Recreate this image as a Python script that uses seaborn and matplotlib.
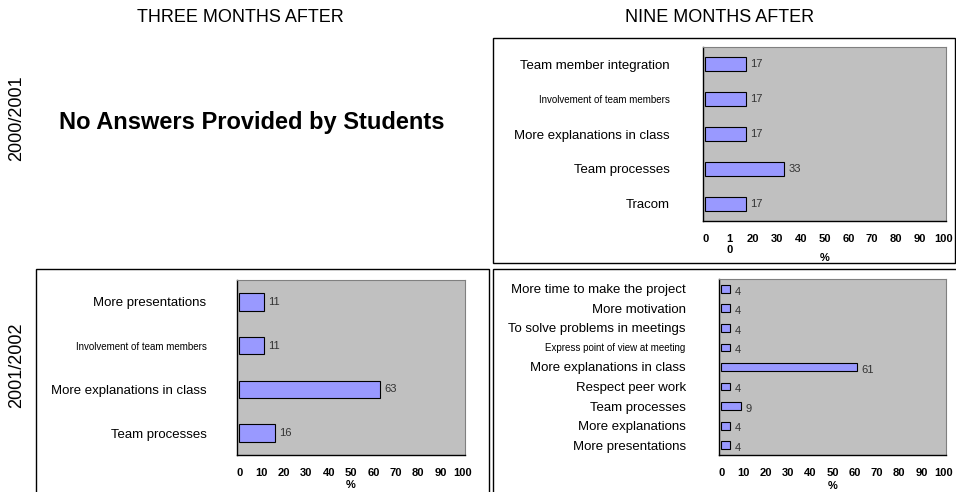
import matplotlib
matplotlib.use("Agg")
import matplotlib.pyplot as plt
from matplotlib.patches import Rectangle
import numpy as np
import pandas as pd
import seaborn as sns

# Data

col_titles = ["THREE MONTHS AFTER", "NINE MONTHS AFTER"]
row_titles = ["2000/2001", "2001/2002"]
no_answer_text = "No Answers Provided by Students"

nine_0001_items = ["Team member integration", "Involvement of team members",
                   "More explanations in class", "Team processes", "Tracom"]
nine_0001_pct = [17, 17, 17, 33, 17]

three_0102_items = ["More presentations", "Involvement of team members",
                    "More explanations in class", "Team processes"]
three_0102_pct = [11, 11, 63, 16]

nine_0102_items = ["More time to make the project", "More motivation",
                   "To solve problems in meetings", "Express point of view at meeting",
                   "More explanations in class", "Respect peer work",
                   "Team processes", "More explanations", "More presentations"]
nine_0102_pct = [4, 4, 4, 4, 61, 4, 9, 4, 4]

x_ticks = [0, 10, 20, 30, 40, 50, 60, 70, 80, 90, 100]
x_ticklabels_top = ["0", "1\n0", "20", "30", "40", "50", "60", "70", "80", "90", "100"]
x_ticklabels = ["0", "10", "20", "30", "40", "50", "60", "70", "80", "90", "100"]

# Style

BAR_COLOR = "#9999FF"
PLOT_BG = "#C0C0C0"
SMALL_LABELS = {"Involvement of team members", "Express point of view at meeting"}

sns.set_style("white")
plt.rcParams["font.family"] = ["Liberation Sans", "DejaVu Sans"]
plt.rcParams["text.color"] = "black"
plt.rcParams["axes.labelcolor"] = "black"
plt.rcParams["xtick.color"] = "black"
plt.rcParams["ytick.color"] = "black"


def draw_panel(ax, items, values, tick_labels, label_pad, xlabel_y, value_dy=0):
    df = pd.DataFrame({"item": items, "pct": values})
    sns.barplot(data=df, x="pct", y="item", ax=ax, orient="h",
                color=BAR_COLOR, saturation=1, width=0.4,
                edgecolor="black", linewidth=0.8)
    ax.set_facecolor(PLOT_BG)
    ax.set_xlim(-1, 101)
    ax.set_xticks(x_ticks)
    ax.set_xticklabels(tick_labels, fontsize=8, fontweight="bold")
    ax.set_xlabel("%", fontsize=8, fontweight="bold")
    ax.xaxis.set_label_coords(0.5, xlabel_y)
    ax.set_ylabel("")

    n = len(items)
    ax.set_yticks(np.arange(-0.5, n, 1), minor=True)
    ax.tick_params(axis="y", which="major", length=0, pad=label_pad)
    ax.tick_params(axis="y", which="minor", length=4, direction="out", width=0.8)
    ax.tick_params(axis="x", length=3, direction="out", width=0.8, pad=6)
    for lab in ax.get_yticklabels():
        lab.set_fontsize(7 if lab.get_text() in SMALL_LABELS else 9.5)

    for side in ["top", "right"]:
        ax.spines[side].set_color("#808080")
        ax.spines[side].set_linewidth(0.8)
    for side in ["left", "bottom"]:
        ax.spines[side].set_color("black")
        ax.spines[side].set_linewidth(1)

    anns = ax.bar_label(ax.containers[0], labels=[str(v) for v in values],
                        padding=3, fontsize=8, color="#333333")
    for a in anns:
        a.xyann = (3, value_dy)


fig = plt.figure(figsize=(9.56, 4.92), dpi=100)

W, H = 956, 492


def px_rect(x0, y0, x1, y1):
    return [x0 / W, 1 - y1 / H, (x1 - x0) / W, (y1 - y0) / H]


# Panel frames
for x0, y0, x1, y1 in [(493, 38, 955, 263), (36, 269, 489, 495), (493, 269, 958, 495)]:
    fig.patches.append(Rectangle((x0 / W, 1 - y1 / H), (x1 - x0) / W, (y1 - y0) / H,
                                 transform=fig.transFigure, fill=False,
                                 edgecolor="black", linewidth=1))

ax_tr = fig.add_axes(px_rect(703, 47, 946, 221))
draw_panel(ax_tr, nine_0001_items, nine_0001_pct, x_ticklabels_top, 24, -0.185)

ax_bl = fig.add_axes(px_rect(237, 280, 465, 455))
draw_panel(ax_bl, three_0102_items, three_0102_pct, x_ticklabels, 22, -0.145)

ax_br = fig.add_axes(px_rect(719, 279, 946, 455))
draw_panel(ax_br, nine_0102_items, nine_0102_pct, x_ticklabels, 24, -0.145, value_dy=-2)

# Column / row titles
fig.text(240 / W, 1 - 18 / H, col_titles[0], ha="center", va="center", fontsize=13)
fig.text(720 / W, 1 - 18 / H, col_titles[1], ha="center", va="center", fontsize=13)
fig.text(17 / W, 1 - 118 / H, row_titles[0], ha="center", va="center", rotation=90, fontsize=13)
fig.text(17 / W, 1 - 365 / H, row_titles[1], ha="center", va="center", rotation=90, fontsize=13)

fig.text(252 / W, 1 - 122 / H, no_answer_text, ha="center", va="center",
         fontsize=17, fontweight="bold")

fig.savefig("out.png", dpi=100)
